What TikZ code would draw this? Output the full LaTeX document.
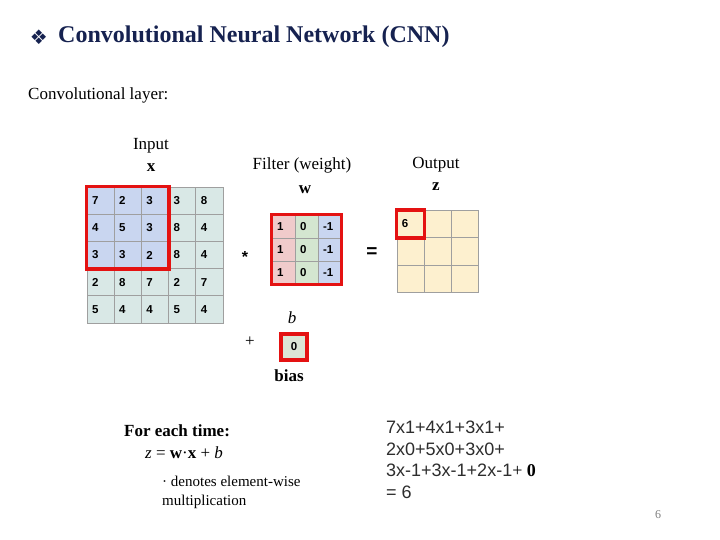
\documentclass[tikz,border=0pt]{standalone}
\usepackage{fontspec}
\setmainfont{Liberation Serif}
\newfontfamily\gridfont{Liberation Sans}
\newfontfamily\symfont{DejaVu Sans}
\usetikzlibrary{positioning, fit}
\definecolor{navy}{RGB}{22,34,80}
\definecolor{inblue}{RGB}{201,214,240}
\definecolor{ingray}{RGB}{217,232,230}
\definecolor{fpink}{RGB}{240,203,203}
\definecolor{fgreen}{RGB}{212,230,208}
\definecolor{fblue}{RGB}{201,214,240}
\definecolor{outyellow}{RGB}{253,240,207}
\definecolor{biasgreen}{RGB}{220,230,214}
\definecolor{boxred}{RGB}{228,18,18}
\definecolor{eqgray}{RGB}{45,45,45}

\begin{document}
\begin{tikzpicture}[
        x=1pt, y=-1pt,
        lbl/.style={inner sep=0pt, font=\fontsize{17}{20}\selectfont},
        cell/.style={rectangle, draw=gray!75, line width=0.8pt, inner xsep=5pt, inner ysep=0pt,
            text width=17.2pt, minimum height=27.2pt, align=left,
            font=\gridfont\bfseries\fontsize{11.5}{11.5}\selectfont},
        fcell/.style={cell, text width=13pt, minimum height=23pt},
        window/.style={rectangle, draw=boxred, line width=3.6pt, inner sep=0pt}
    ]
        \useasboundingbox[fill=white] (0,0) rectangle (720,540);

        % Title
        \node[anchor=west, inner sep=0pt, text=navy, font=\bfseries\fontsize{24}{27}\selectfont] (title) at (58,37) {Convolutional Neural Network (CNN)};
        \node[left=10pt of title, inner sep=0pt, text=navy, font=\symfont\fontsize{20}{20}\selectfont] (bullet) {❖};
        \node[lbl, anchor=west] (layer) at (28,95) {Convolutional layer:};

        % Input
        \node[lbl] (inlbl) at (151,146) {Input};
        \node[lbl, font=\bfseries\fontsize{17}{20}\selectfont] (inx) at (151,168) {x};
        \foreach \row [count=\r] in {{7,2,3,3,8},{4,5,3,8,4},{3,3,2,8,4},{2,8,7,2,7},{5,4,4,5,4}} {
            \foreach \v [count=\c] in \row {
                \ifnum\r<4 \ifnum\c<4 \def\cc{inblue}\else\def\cc{ingray}\fi\else\def\cc{ingray}\fi
                \node[cell, fill=\cc] (in-\r-\c) at ({87+27.2*(\c-0.5)},{187+27.2*(\r-0.5)}) {\v};
            }
        }
        \node[window, fit=(in-1-1)(in-3-3)] (inwin) {};

        % Filter
        \node[lbl] (flbl) at (302,165) {Filter (weight)};
        \node[lbl, font=\bfseries\fontsize{17}{20}\selectfont] (fw) at (305,190) {w};
        \foreach \r in {1,2,3} {
            \foreach \v/\cc [count=\c] in {1/fpink,0/fgreen,-1/fblue} {
                \node[fcell, fill=\cc] (f-\r-\c) at ({272+23*(\c-0.5)},{215+23*(\r-0.5)}) {\v};
            }
        }
        \node[window, fit=(f-1-1)(f-3-3)] (fwin) {};

        % Operators
        \node[inner sep=0pt, font=\gridfont\bfseries\fontsize{16}{16}\selectfont] (star) at (245,257) {*};
        \node[inner sep=0pt, font=\gridfont\bfseries\fontsize{19}{19}\selectfont] (equal) at (372,253) {=};

        % Output
        \node[lbl] (outlbl) at (436,165) {Output};
        \node[lbl, font=\bfseries\fontsize{17}{20}\selectfont] (outz) at (436,187) {z};
        \foreach \r in {1,2,3} {
            \foreach \c in {1,2,3} {
                \node[cell, fill=outyellow] (out-\r-\c) at ({397+27*(\c-0.5)},{210+27.6*(\r-0.5)}) {};
            }
        }
        \node[cell, draw=none] (zval) at (out-1-1) {6};
        \node[window, fit=(out-1-1)] (outwin) {};

        % Bias
        \node[lbl, font=\itshape\fontsize{17}{20}\selectfont] (blbl) at (292,318) {b};
        \node[lbl] (plus) at (250,342) {+};
        \node[rectangle, fill=biasgreen, draw=boxred, line width=3.6pt, minimum size=26pt, inner sep=0pt,
            font=\gridfont\bfseries\fontsize{11.5}{11.5}\selectfont] (bias) at (294,347) {0};
        \node[lbl, font=\bfseries\fontsize{17}{20}\selectfont] (biaslbl) at (289,376) {bias};

        % Formula
        \node[lbl, anchor=west, font=\bfseries\fontsize{17}{20}\selectfont] (each) at (124,431) {For each time:};
        \node[lbl, anchor=west] (formula) at (145,453) {\textit{z} = \textbf{w}·\textbf{x} + \textit{b}};
        \node[anchor=north west, inner sep=0pt, align=left, font=\fontsize{15}{19}\selectfont] (note) at (162,476) {· denotes element-wise\\multiplication};

        % Worked sum
        \node[anchor=north west, inner sep=0pt, align=left, text=eqgray, font=\gridfont\fontsize{18}{21.5}\selectfont] (sum) at (386,421)
            {7x1+4x1+3x1+\\2x0+5x0+3x0+\\3x-1+3x-1+2x-1{\rmfamily\color{black}+ \textbf{0}}\\= 6};

        % Page number
        \node[inner sep=0pt, text=gray, font=\fontsize{12}{12}\selectfont] (page) at (658,515) {6};
    \end{tikzpicture}
\end{document}
